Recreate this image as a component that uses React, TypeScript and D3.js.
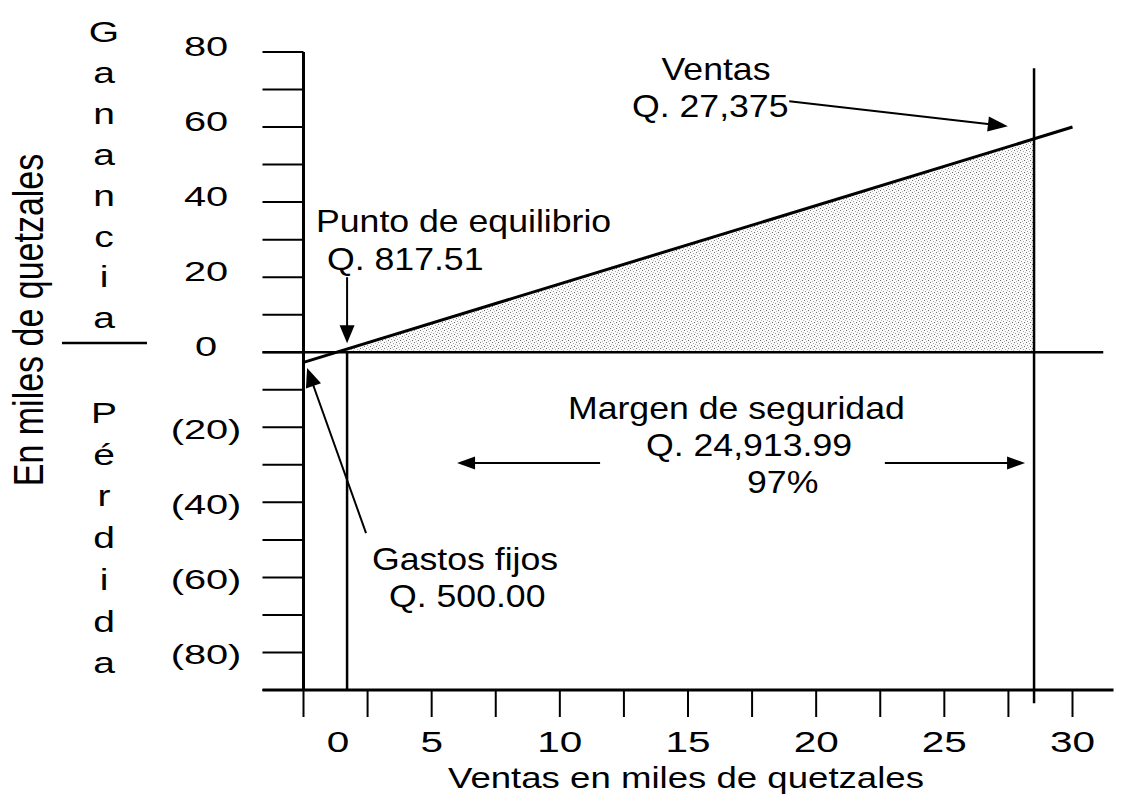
import React from "react";
import * as d3 from "d3";

const W = 1127;
const H = 795;
const FONT = "'Liberation Sans', Arial, Helvetica, sans-serif";

// ---- data ----
const xDomain = [0, 30];
const yDomain = [-90, 80];
const xTickValues = [0, 2.5, 5, 7.5, 10, 12.5, 15, 17.5, 20, 22.5, 25, 27.5, 30];
const xTickLabelValues = [1.35, 5, 10, 15, 20, 25, 30];
const xTickLabels = ["0", "5", "10", "15", "20", "25", "30"];
const yTickValues = [-90, -80, -70, -60, -50, -40, -30, -20, -10, 0, 10, 20, 30, 40, 50, 60, 70, 80];
const yTickLabelValues = [80, 60, 40, 20, 0, -20, -40, -60, -80];
const yTickLabels = ["80", "60", "40", "20", "0", "(20)", "(40)", "(60)", "(80)"];
const profitX = [0, 30];
const profitY = [-2.7, 60];
const breakEvenX = 1.7;
const salesX = 28.5;
const salesLineRange = [-93.5, 75.7];
const axisExtentX = [-1.6, 31.6];
const zeroLineExtentX = [-1.6, 31.2];
const gananciaLetters = ["G", "a", "n", "a", "n", "c", "i", "a"];
const perdidaLetters = ["P", "é", "r", "d", "i", "d", "a"];

// arrows in data coordinates: [tailX, tailY, tipX, tipY]
const arrowBreakEven = [1.7, 20.0, 1.7, 2.4];
const arrowFixed = [2.44, -48.2, 0.14, -4.2];
const arrowSales = [18.95, 66.9, 27.48, 60.2];
const arrowMarginLeft = [11.57, -29.5, 5.99, -29.5];
const arrowMarginRight = [22.68, -29.5, 28.15, -29.5];

const x = d3.scaleLinear().domain(xDomain).range([303.5, 1072.5]);
const y = d3.scaleLinear().domain(yDomain).range([690, 52]);

const profitAt = (v: number) =>
  profitY[0] + ((profitY[1] - profitY[0]) * (v - profitX[0])) / (profitX[1] - profitX[0]);

function Arrow({ a, len = 19, hw = 7.5 }: { a: number[]; len?: number; hw?: number }) {
  const x1 = x(a[0]), y1 = y(a[1]), x2 = x(a[2]), y2 = y(a[3]);
  const dx = x2 - x1, dy = y2 - y1;
  const d = Math.sqrt(dx * dx + dy * dy);
  const ux = dx / d, uy = dy / d;
  const bx = x2 - ux * len, by = y2 - uy * len;
  const px = -uy, py = ux;
  const pts = `${x2},${y2} ${bx + px * hw},${by + py * hw} ${bx - px * hw},${by - py * hw}`;
  return (
    <g>
      <line x1={x1} y1={y1} x2={bx + ux * 2} y2={by + uy * 2} stroke="#000" strokeWidth={2} />
      <polygon points={pts} fill="#000" />
    </g>
  );
}

function T({ x: tx, y: ty, sx = 1.15, size = 31, anchor = "start", children }: any) {
  return (
    <text
      transform={`translate(${tx},${ty}) scale(${sx},1)`}
      fontSize={size}
      fontFamily={FONT}
      textAnchor={anchor}
      fill="#000"
    >
      {children}
    </text>
  );
}

export default function App() {
  const zeroCross = profitX[0] + ((0 - profitY[0]) * (profitX[1] - profitX[0])) / (profitY[1] - profitY[0]);
  const areaPts = [
    { v: zeroCross, p: 0 },
    { v: salesX, p: profitAt(salesX) },
  ];
  const area = d3
    .area<{ v: number; p: number }>()
    .x((d) => x(d.v))
    .y0(y(0))
    .y1((d) => y(d.p));
  const line = d3
    .line<number>()
    .x((d, i) => x(profitX[i]))
    .y((d) => y(d));

  return (
    <svg
      width={W}
      height={H}
      style={{ position: "absolute", left: 0, top: 0, background: "#fff" }}
    >
      <defs>
        <pattern id="stipple" width="6" height="6" patternUnits="userSpaceOnUse">
          <rect width="6" height="6" fill="#fafafa" />
          <rect x="0" y="0" width="1" height="1" fill="#777" />
          <rect x="3" y="1" width="1" height="1" fill="#aaa" />
          <rect x="1" y="3" width="1" height="1" fill="#999" />
          <rect x="4" y="4" width="1" height="1" fill="#666" />
          <rect x="5" y="2" width="1" height="1" fill="#bbb" />
          <rect x="2" y="5" width="1" height="1" fill="#bbb" />
        </pattern>
      </defs>

      {/* shaded profit area */}
      <path d={area(areaPts) || ""} fill="url(#stipple)" />

      {/* y ticks */}
      {yTickValues.map((v) => (
        <line key={"yt" + v} x1={x(axisExtentX[0])} x2={x(0)} y1={y(v)} y2={y(v)} stroke="#000" strokeWidth={2} />
      ))}
      {/* zero line */}
      <line x1={x(zeroLineExtentX[0])} x2={x(zeroLineExtentX[1])} y1={y(0)} y2={y(0)} stroke="#000" strokeWidth={2.5} />
      {/* y axis */}
      <line x1={x(0)} x2={x(0)} y1={y(yDomain[1])} y2={y(yDomain[0])} stroke="#000" strokeWidth={3} />
      {/* x axis */}
      <line x1={x(axisExtentX[0])} x2={x(axisExtentX[1])} y1={y(yDomain[0])} y2={y(yDomain[0])} stroke="#000" strokeWidth={3} />
      {/* x ticks */}
      {xTickValues.map((v) => (
        <line key={"xt" + v} x1={x(v)} x2={x(v)} y1={y(yDomain[0])} y2={y(yDomain[0]) + 27} stroke="#000" strokeWidth={2} />
      ))}

      {/* break-even vertical */}
      <line x1={x(breakEvenX)} x2={x(breakEvenX)} y1={y(0)} y2={y(yDomain[0])} stroke="#000" strokeWidth={2.5} />
      {/* sales vertical */}
      <line x1={x(salesX)} x2={x(salesX)} y1={y(salesLineRange[1])} y2={y(salesLineRange[0])} stroke="#000" strokeWidth={2.5} />

      {/* profit line */}
      <path d={line(profitY) || ""} fill="none" stroke="#000" strokeWidth={3} />

      {/* arrows */}
      <Arrow a={arrowBreakEven} len={18} hw={7.5} />
      <Arrow a={arrowFixed} len={19} hw={8} />
      <Arrow a={arrowSales} len={20} hw={7.5} />
      <Arrow a={arrowMarginLeft} len={18} hw={6.5} />
      <Arrow a={arrowMarginRight} len={18} hw={6.5} />

      {/* y tick labels */}
      {yTickLabelValues.map((v, i) => (
        <T key={"yl" + v} x={206} y={y(v) + (v < 0 ? 12 : 4)} sx={1.42} size={28} anchor="middle">
          {yTickLabels[i]}
        </T>
      ))}
      {/* x tick labels */}
      {xTickLabelValues.map((v, i) => (
        <T key={"xl" + v} x={x(v)} y={752} sx={1.35} size={30} anchor="middle">
          {xTickLabels[i]}
        </T>
      ))}

      {/* x axis title */}
      <T x={448} y={788} sx={1.22} size={30}>Ventas en miles de quetzales</T>

      {/* y axis title (rotated) */}
      <text
        transform="translate(42.5,320) scale(1.25,1) rotate(-90)"
        fontSize={34}
        fontFamily={FONT}
        textAnchor="middle"
        fill="#000"
      >
        En miles de quetzales
      </text>

      {/* Ganancia / Pérdida */}
      {gananciaLetters.map((c, i) => (
        <T key={"g" + i} x={104} y={42 + i * 40.9} sx={1.3} size={30} anchor="middle">
          {c}
        </T>
      ))}
      <line x1={62} x2={147} y1={343} y2={343} stroke="#000" strokeWidth={2.5} />
      {perdidaLetters.map((c, i) => (
        <T key={"p" + i} x={104} y={423 + i * 41.7} sx={1.3} size={30} anchor="middle">
          {c}
        </T>
      ))}

      {/* annotations */}
      <T x={716} y={80} anchor="middle">Ventas</T>
      <T x={632} y={117}>Q. 27,375</T>
      <T x={316} y={232}>Punto de equilibrio</T>
      <T x={327} y={270}>Q. 817.51</T>
      <T x={568} y={419}>Margen de seguridad</T>
      <T x={646} y={456}>Q. 24,913.99</T>
      <T x={747} y={493}>97%</T>
      <T x={372} y={570}>Gastos fijos</T>
      <T x={389} y={607}>Q. 500.00</T>
    </svg>
  );
}
